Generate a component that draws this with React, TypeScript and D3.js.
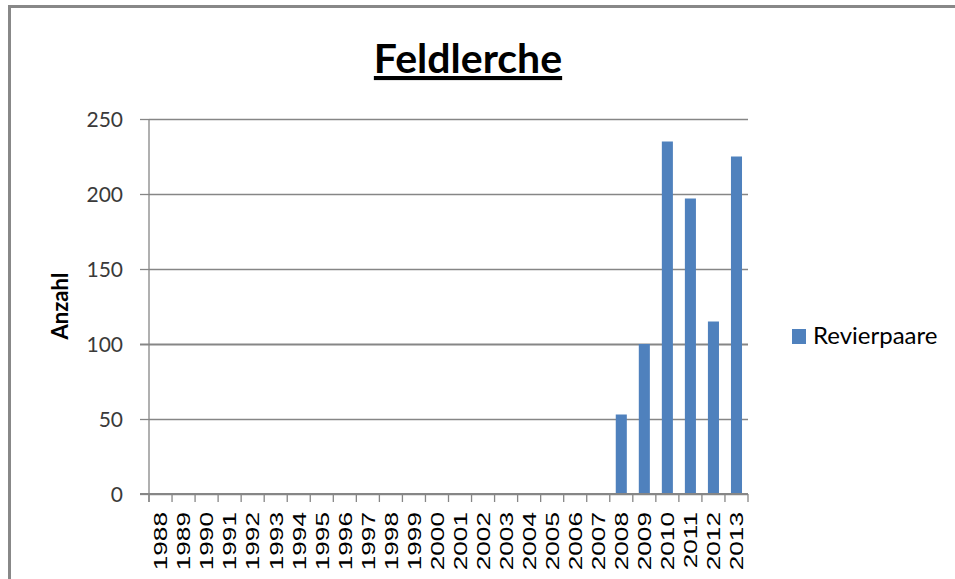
import * as d3 from "d3";
import { useEffect, useRef } from "react";

const years: string[] = [
  "1988", "1989", "1990", "1991", "1992", "1993", "1994", "1995", "1996",
  "1997", "1998", "1999", "2000", "2001", "2002", "2003", "2004", "2005",
  "2006", "2007", "2008", "2009", "2010", "2011", "2012", "2013",
];
const revierpaare: number[] = [
  0, 0, 0, 0, 0, 0, 0, 0, 0, 0, 0, 0, 0, 0, 0, 0, 0, 0, 0, 0,
  53, 100, 235, 197, 115, 225,
];
const yTicks: number[] = [0, 50, 100, 150, 200, 250];
const seriesName = "Revierpaare";
const title = "Feldlerche";
const yTitle = "Anzahl";

export default function App() {
  const svgRef = useRef<SVGSVGElement | null>(null);

  useEffect(() => {
    if (!svgRef.current) return;
    const svg = d3.select(svgRef.current);
    svg.selectAll("*").remove();

    const width = 955;
    const height = 579;
    const marginLeft = 149;
    const marginRight = 207; // plot ends at 748
    const marginTop = 119;
    const plotBottom = 494;
    const grey = "#868686";
    const font = "Lato, 'Open Sans', sans-serif";

    const x = d3.scaleBand()
      .domain(years)
      .range([marginLeft, width - marginRight])
      .paddingInner(0.52)
      .paddingOuter(0.26);

    const y = d3.scaleLinear()
      .domain([0, 250])
      .range([plotBottom, marginTop]);

    // outer frame (only top and left edges visible)
    svg.append("line")
      .attr("x1", 8).attr("x2", width)
      .attr("y1", 6.5).attr("y2", 6.5)
      .attr("stroke", "#888").attr("stroke-width", 3);
    svg.append("line")
      .attr("x1", 9.5).attr("x2", 9.5)
      .attr("y1", 5).attr("y2", height)
      .attr("stroke", "#888").attr("stroke-width", 3);

    // title
    svg.append("text")
      .attr("x", 468).attr("y", 73)
      .attr("text-anchor", "middle")
      .attr("font-family", font)
      .attr("font-weight", "bold")
      .attr("font-size", 41)
      .attr("fill", "#000")
      .attr("text-decoration", "underline")
      .text(title);

    // gridlines + y axis ticks
    svg.append("g")
      .attr("transform", `translate(${marginLeft},0)`)
      .call(d3.axisLeft(y).tickValues(yTicks).tickSize(9).tickFormat(() => ""))
      .call(g => g.select(".domain").remove())
      .call(g => g.selectAll(".tick line").clone()
        .attr("x2", width - marginRight - marginLeft))
      .call(g => g.selectAll(".tick line")
        .attr("stroke", grey)
        .attr("stroke-width", (d: any) => (d === 100 ? 2 : 1.3)));

    svg.append("g")
      .selectAll("text")
      .data(yTicks)
      .join("text")
      .attr("x", 123)
      .attr("y", d => y(d) + 8)
      .attr("text-anchor", "end")
      .attr("font-family", font)
      .attr("font-size", 21)
      .attr("fill", "#3a3a3a")
      .text(d => d);

    svg.append("line")
      .attr("x1", marginLeft).attr("x2", marginLeft)
      .attr("y1", marginTop).attr("y2", plotBottom + 8)
      .attr("stroke", grey).attr("stroke-width", 1.3);

    // bars
    svg.append("g")
      .attr("fill", "#4F81BD")
      .selectAll("rect")
      .data(years.map((yr, i) => ({ yr, v: revierpaare[i] })))
      .join("rect")
      .attr("x", d => x(d.yr)!)
      .attr("y", d => y(d.v))
      .attr("width", x.bandwidth())
      .attr("height", d => y(0) - y(d.v));

    // x axis baseline and tick marks between categories
    const step = x.step();
    const bounds = d3.range(years.length + 1).map(i => marginLeft + i * step);
    svg.append("line")
      .attr("x1", marginLeft - 9).attr("x2", width - marginRight)
      .attr("y1", plotBottom).attr("y2", plotBottom)
      .attr("stroke", grey).attr("stroke-width", 2);
    svg.append("g")
      .selectAll("line")
      .data(bounds)
      .join("line")
      .attr("x1", d => d).attr("x2", d => d)
      .attr("y1", plotBottom).attr("y2", plotBottom + 8)
      .attr("stroke", grey).attr("stroke-width", 1.3);

    // x labels (rotated, stretched along text)
    svg.append("g")
      .selectAll("text")
      .data(years)
      .join("text")
      .attr("transform", d =>
        `translate(${x(d)! + x.bandwidth() / 2 + 6.8},512) rotate(-90) scale(1.38,1)`)
      .attr("text-anchor", "end")
      .attr("font-family", "'Liberation Sans', Arial, sans-serif")
      .attr("font-size", 19)
      .attr("fill", "#000")
      .text(d => d);

    // y title
    svg.append("text")
      .attr("transform", "translate(68,306) rotate(-90)")
      .attr("text-anchor", "middle")
      .attr("font-family", font)
      .attr("font-weight", "bold")
      .attr("font-size", 22)
      .attr("fill", "#000")
      .text(yTitle);

    // legend
    svg.append("rect")
      .attr("x", 792).attr("y", 329)
      .attr("width", 14).attr("height", 15)
      .attr("fill", "#4F81BD");
    svg.append("text")
      .attr("x", 813).attr("y", 344)
      .attr("font-family", font)
      .attr("font-size", 24)
      .attr("fill", "#000")
      .text(seriesName);
  }, []);

  return (
    <svg
      ref={svgRef}
      width={955}
      height={579}
      viewBox="0 0 955 579"
      style={{ position: "absolute", left: 0, top: 0, background: "#fff", display: "block" }}
    />
  );
}
